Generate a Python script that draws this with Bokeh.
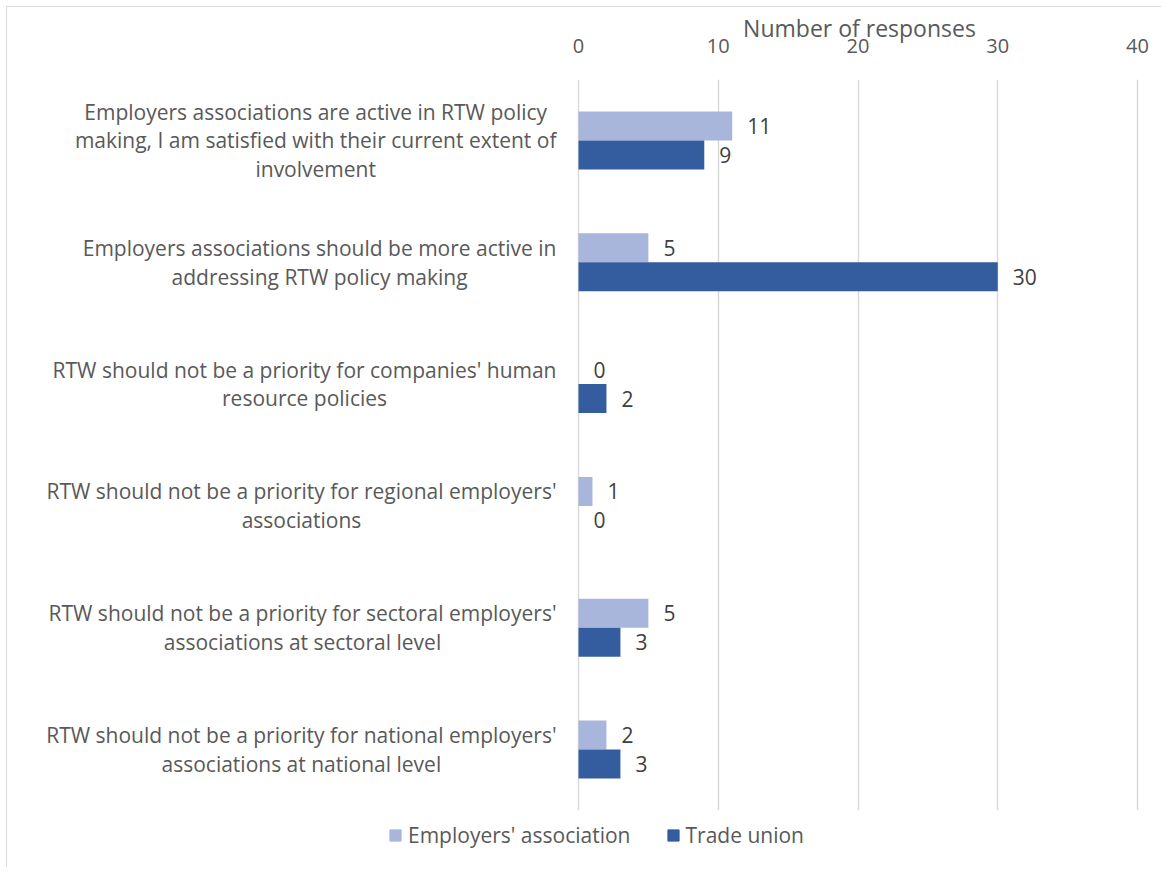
from bokeh.plotting import figure
from bokeh.layouts import column, row
from bokeh.models import (Range1d, FactorRange, FixedTicker, Legend, LegendItem,
                          ColumnDataSource)
from bokeh.transform import dodge
from bokeh.core.properties import value
from bokeh.embed import file_html
from bokeh.resources import INLINE

categories = [
    "Employers associations are active in RTW policy\nmaking, I am satisfied with their current extent of\ninvolvement",
    "Employers associations should be more active in\naddressing RTW policy making",
    "RTW should not be a priority for companies' human\nresource policies",
    "RTW should not be a priority for regional employers'\nassociations",
    "RTW should not be a priority for sectoral employers'\nassociations at sectoral level",
    "RTW should not be a priority for national employers'\nassociations at national level",
]
employers = [11, 5, 0, 1, 5, 2]
trade_union = [9, 30, 2, 0, 3, 3]
x_ticks = [0, 10, 20, 30, 40]
series_names = ["Employers' association", "Trade union"]
axis_title = "Number of responses"

FONT = "Open Sans"
LIGHT = "#A8B6DC"
DARK = "#345DA0"
GREY = "#595959"
DARKGREY = "#404040"
GRID = "#D9D9D9"

# layout (pixels)
LABEL_W = 550          # width of the category-label panel
MAIN_W = 604           # width of the bar panel
ROW_H = 805
LEG_H = 55
TOP = 72
BOTTOM = 2
ppu = 13.975           # pixels per response
zero_px = 21           # x=0 sits 21px right of the bar panel's left edge

src = ColumnDataSource(dict(
    cat=categories,
    emp=employers,
    tu=trade_union,
    emp_txt=[str(v) for v in employers],
    tu_txt=[str(v) for v in trade_union],
))

y_range = FactorRange(factors=list(reversed(categories)), range_padding=0)

# ---- bar panel
p = figure(width=MAIN_W, height=ROW_H, output_backend="svg", toolbar_location=None,
           x_range=Range1d(-zero_px / ppu, (MAIN_W - zero_px) / ppu),
           y_range=y_range, x_axis_location="above",
           min_border_left=0, min_border_right=0,
           min_border_top=TOP, min_border_bottom=BOTTOM)
p.outline_line_color = None

bh = 0.238
off = bh / 2
r1 = p.hbar(y=dodge("cat", off, range=y_range), right="emp", left=0, height=bh,
            source=src, fill_color=LIGHT, line_color=None)
r2 = p.hbar(y=dodge("cat", -off, range=y_range), right="tu", left=0, height=bh,
            source=src, fill_color=DARK, line_color=None)

for col, txt, d in (("emp", "emp_txt", off), ("tu", "tu_txt", -off)):
    p.text(x=col, y=dodge("cat", d, range=y_range), text=txt, source=src,
           x_offset=15, text_align="left", text_baseline="middle",
           text_font=value(FONT), text_font_size="21px", text_color=DARKGREY)

p.yaxis.visible = False
xa = p.xaxis[0]
xa.ticker = FixedTicker(ticks=x_ticks)
xa.axis_line_color = None
xa.major_tick_line_color = None
xa.minor_tick_line_color = None
xa.major_tick_out = 0
xa.major_label_standoff = 27
xa.major_label_text_font = FONT
xa.major_label_text_font_size = "20px"
xa.major_label_text_color = GREY
xa.axis_label = axis_title
xa.axis_label_standoff = -8
xa.axis_label_text_font = FONT
xa.axis_label_text_font_size = "23px"
xa.axis_label_text_font_style = "normal"
xa.axis_label_text_color = GREY

p.xgrid.ticker = FixedTicker(ticks=x_ticks)
p.xgrid.grid_line_color = GRID
p.xgrid.grid_line_width = 1.5
p.ygrid.grid_line_color = None

# ---- category label panel
lab = figure(width=LABEL_W, height=ROW_H, output_backend="svg", toolbar_location=None,
             x_range=Range1d(0, LABEL_W), y_range=y_range,
             min_border_left=0, min_border_right=0,
             min_border_top=TOP, min_border_bottom=BOTTOM)
lab.outline_line_color = None
lab.axis.visible = False
lab.grid.grid_line_color = None
lab.text(x=LABEL_W - 1, y="cat", text="cat", source=src,
         anchor="center_right", text_align="center", text_baseline="middle",
         text_line_height=1.03,
         text_font=value(FONT), text_font_size="21px", text_color=GREY)

# ---- legend panel (legend keys styled like the bars; their one point lies out of view)
leg = figure(width=LABEL_W + MAIN_W, height=LEG_H, output_backend="svg",
             toolbar_location=None, min_border=0,
             x_range=Range1d(0, 1), y_range=Range1d(0, 1))
leg.outline_line_color = None
leg.axis.visible = False
leg.grid.grid_line_color = None
key_src = ColumnDataSource(dict(y=[-5], v=[0]))
k1 = leg.hbar(y="y", right="v", left="v", height=0.1, source=key_src,
              fill_color=LIGHT, line_color=LIGHT)
k2 = leg.hbar(y="y", right="v", left="v", height=0.1, source=key_src,
              fill_color=DARK, line_color=DARK)
legend = Legend(items=[LegendItem(label=series_names[0], renderers=[k1]),
                       LegendItem(label=series_names[1], renderers=[k2])],
                orientation="horizontal", location=(381, 18),
                glyph_width=14, glyph_height=14, label_standoff=6, spacing=35,
                padding=5, margin=0,
                label_text_font=FONT, label_text_font_size="21px", label_text_color=GREY,
                border_line_color=None, background_fill_alpha=0)
leg.add_layout(legend, "center")

layout = column(row(lab, p), leg,
                styles={"margin-left": "6px", "margin-top": "6px",
                        "border-top": "1px solid #D9D9D9", "border-left": "1px solid #D9D9D9"})

open("out.html", "w").write(file_html(layout, INLINE))
